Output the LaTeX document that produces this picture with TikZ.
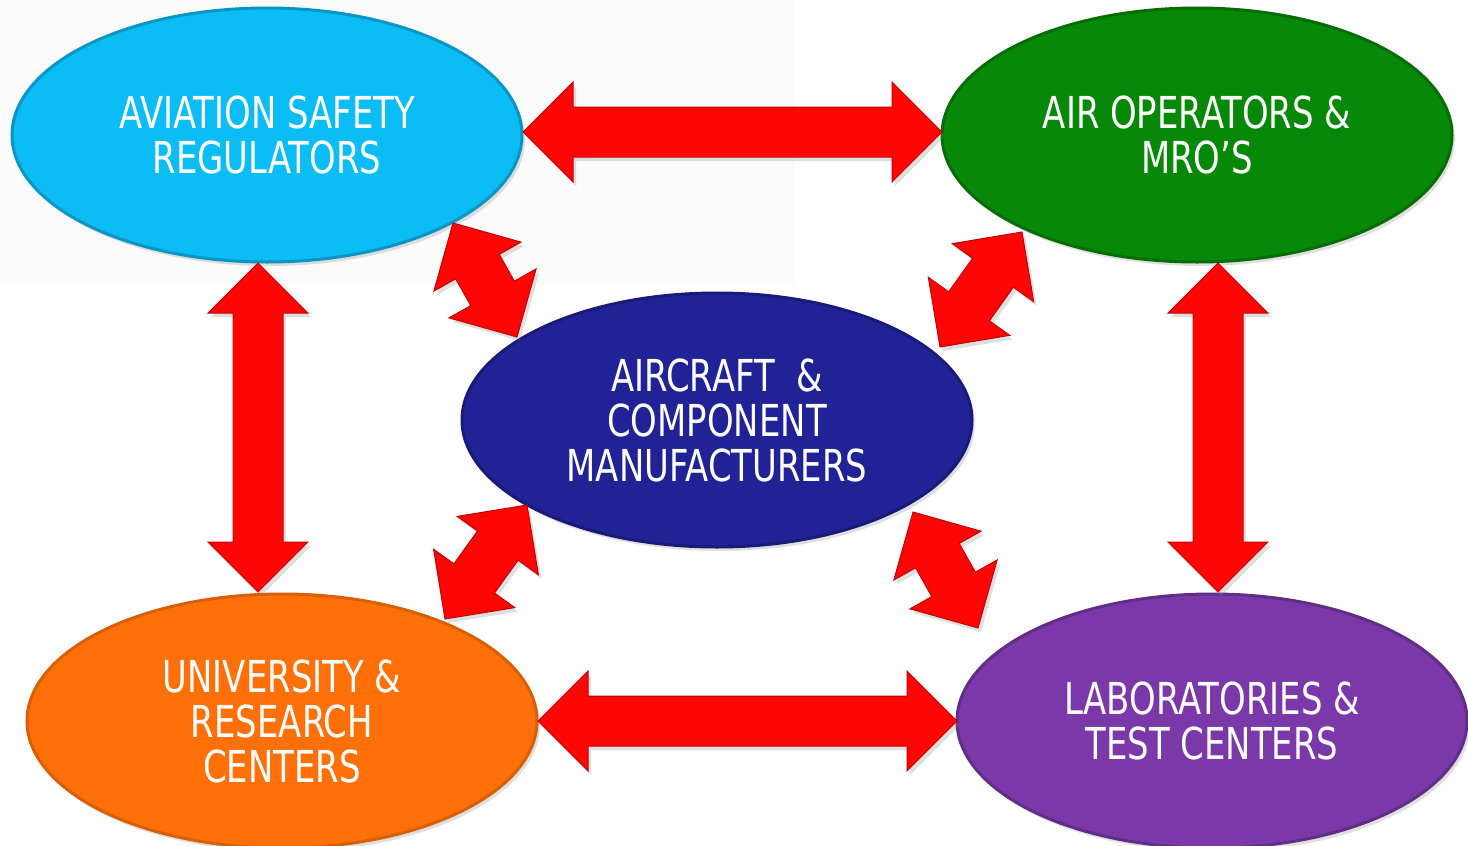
\documentclass[tikz,border=0pt]{standalone}
\usepackage{fontspec}
\setmainfont{DejaVu Sans}[FakeStretch=0.77]
\usetikzlibrary{shapes.geometric,calc,shadows}
\definecolor{cCyan}{RGB}{12,188,245}
\definecolor{cGreen}{RGB}{8,136,8}
\definecolor{cNavy}{RGB}{32,34,150}
\definecolor{cOrange}{RGB}{255,112,8}
\definecolor{cPurple}{RGB}{122,56,168}
\definecolor{cRed}{RGB}{255,6,6}
\definecolor{cBg}{RGB}{251,251,251}
\tikzset{
  blob/.style={ellipse, minimum width=255pt, minimum height=127pt, inner sep=0pt,
    text=white, align=center, font=\fontsize{22}{22.5}\selectfont, line width=1.5pt,
    drop shadow={opacity=0.25, shadow xshift=1.5pt, shadow yshift=-2pt}},
  redarrow/.style={fill=cRed, draw=cRed!75!black, line width=0.5pt, line join=miter,
    drop shadow={opacity=0.25, shadow xshift=1.5pt, shadow yshift=-2pt}},
}
\newcommand\dblarrow[2]{%
  \coordinate (ha) at ($(#1)!25pt!(#2)$);
  \coordinate (hb) at ($(#2)!25pt!(#1)$);
  \path[redarrow] (#1) -- ($(ha)!25pt!90:(#1)$) -- ($(ha)!12.5pt!90:(#1)$)
    -- ($(hb)!12.5pt!-90:(#2)$) -- ($(hb)!25pt!-90:(#2)$) -- (#2)
    -- ($(hb)!25pt!90:(#2)$) -- ($(hb)!12.5pt!90:(#2)$)
    -- ($(ha)!12.5pt!-90:(#1)$) -- ($(ha)!25pt!-90:(#1)$) -- cycle;
}
\begin{document}
\begin{tikzpicture}[x=0.5pt,y=-0.5pt]
\useasboundingbox (0,0) rectangle (1468,846);
\fill[white] (0,0) rectangle (1468,846);
\fill[cBg] (0,0) rectangle (795,285);
% ellipses
\node[blob, fill=cCyan, draw=cCyan!80!black] (asr) at (267,135) {AVIATION SAFETY\\REGULATORS};
\node[blob, fill=cGreen, draw=cGreen!80!black] (aom) at (1197,135) {AIR OPERATORS \&\\MRO’S};
\node[blob, fill=cNavy, draw=cNavy!80!black] (acm) at (717,420) {AIRCRAFT~ \&\\COMPONENT\\MANUFACTURERS};
\node[blob, fill=cOrange, draw=cOrange!85!black] (urc) at (282,721) {UNIVERSITY \&\\RESEARCH\\CENTERS};
\node[blob, fill=cPurple, draw=cPurple!80!black] (ltc) at (1212,721) {LABORATORIES \&\\TEST CENTERS};
% arrow tips
\coordinate (t1a) at (523,132);  \coordinate (t1b) at (942,132);
\coordinate (t2a) at (538,721);  \coordinate (t2b) at (957,721);
\coordinate (t3a) at (258,263);  \coordinate (t3b) at (258,592);
\coordinate (t4a) at (1218,263); \coordinate (t4b) at (1218,592);
\coordinate (d1a) at (453,223);  \coordinate (d1b) at (517,337);
\coordinate (d2a) at (1022,232); \coordinate (d2b) at (940,347);
\coordinate (d3a) at (527,505);  \coordinate (d3b) at (445,619);
\coordinate (d4a) at (913,512);  \coordinate (d4b) at (978,628);
\dblarrow{t1a}{t1b}
\dblarrow{t2a}{t2b}
\dblarrow{t3a}{t3b}
\dblarrow{t4a}{t4b}
\dblarrow{d1a}{d1b}
\dblarrow{d2a}{d2b}
\dblarrow{d3a}{d3b}
\dblarrow{d4a}{d4b}
\end{tikzpicture}
\end{document}
